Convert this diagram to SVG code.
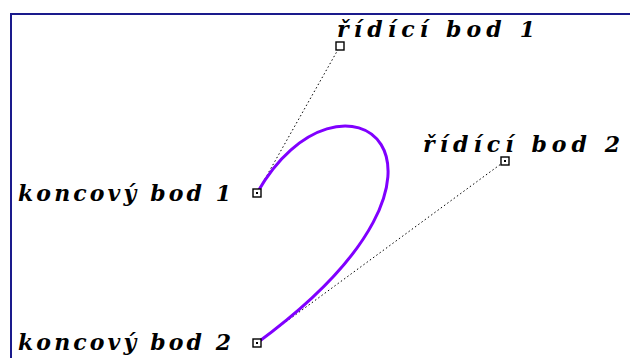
<svg xmlns="http://www.w3.org/2000/svg" width="630" height="358" viewBox="0 0 630 358">
<style>
.lbl{font-family:"DejaVu Serif","Liberation Serif",serif;font-weight:bold;font-style:italic;font-size:22px;fill:#000}
.pt{fill:#fff;stroke:#000;stroke-width:1.4}
.dot{fill:#000}
.guide{stroke:#000;stroke-width:1;stroke-dasharray:1.5 2.5;fill:none}
.curve{stroke:#8000ff;stroke-width:3;fill:none;stroke-linecap:round}
</style>
<rect width="630" height="358" fill="#fff"/>
<path d="M11,358 V14 H630" fill="none" stroke="#1a1a8c" stroke-width="2"/>
<g id="connectors">
<line class="guide" x1="257" y1="193" x2="340" y2="46"/>
<line class="guide" x1="257" y1="343" x2="505" y2="161"/>
<path class="curve" d="M257,193 C340,46 505,161 257,343"/>
</g>
<g id="endpoint1">
<rect class="pt" x="253" y="189" width="8" height="8"/>
<rect class="dot" x="256" y="192" width="2" height="2"/>
<text class="lbl" x="18" y="201" textLength="213" lengthAdjust="spacing">koncový bod 1</text>
</g>
<g id="endpoint2">
<rect class="pt" x="253" y="339" width="8" height="8"/>
<rect class="dot" x="256" y="342" width="2" height="2"/>
<text class="lbl" x="18" y="350" textLength="213" lengthAdjust="spacing">koncový bod 2</text>
</g>
<g id="control1">
<rect class="pt" x="336" y="42" width="8" height="8"/>
<text class="lbl" x="337" y="37" textLength="198" lengthAdjust="spacing">řídící bod 1</text>
</g>
<g id="control2">
<rect class="pt" x="501" y="157" width="8" height="8"/>
<rect class="dot" x="504" y="160" width="2" height="2"/>
<text class="lbl" x="423" y="152" textLength="197" lengthAdjust="spacing">řídící bod 2</text>
</g>
</svg>
